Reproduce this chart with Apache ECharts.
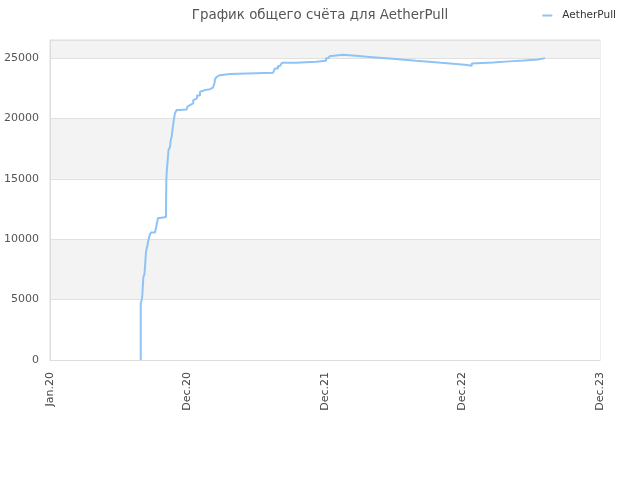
<!DOCTYPE html>
<html>
<head>
<meta charset="utf-8">
<script src="https://cdn.jsdelivr.net/npm/echarts@6/dist/echarts.min.js"></script>
<style>html,body{margin:0;padding:0;background:#fff;}#c{width:640px;height:480px;}</style>
</head>
<body>
<div id="c"></div>
<script>
// X tick labels (axis position index 0..4)
var tickLabels = ['Jan.20', 'Dec.20', 'Dec.21', 'Dec.22', 'Dec.23'];
var seriesName = 'AetherPull';
// x positions along the axis (in tick units)
var xPos = [0.660, 0.660, 0.667, 0.671, 0.679, 0.687, 0.691, 0.698, 0.709, 0.713,
  0.725, 0.735, 0.764, 0.778, 0.785, 0.800, 0.844, 0.846, 0.849, 0.856,
  0.862, 0.873, 0.878, 0.885, 0.892, 0.897, 0.904, 0.909, 0.921, 0.945,
  0.994, 0.999, 1.009, 1.018, 1.042, 1.055, 1.069, 1.091, 1.098, 1.127,
  1.164, 1.185, 1.196, 1.200, 1.212, 1.225, 1.236, 1.309, 1.433, 1.622,
  1.636, 1.658, 1.673, 1.687, 1.789, 1.935, 2.007, 2.022, 2.036, 2.051,
  2.080, 2.131, 2.225, 2.305, 2.393, 2.495, 2.575, 2.662, 2.756, 2.844,
  2.931, 3.018, 3.067, 3.076, 3.222, 3.338, 3.447, 3.549, 3.600];
// score values
var scores = [0, 4740, 4970, 5300, 6870, 7120, 7700, 8940, 9520, 9770,
  10350, 10560, 10720, 11340, 11760, 11840, 12580, 14900, 15590, 16560,
  17380, 17660, 18210, 18490, 19180, 19310, 20140, 20420, 20700, 20740,
  20840, 20970, 21110, 21250, 21520, 21660, 21900, 22210, 22350, 22430,
  22560, 22620, 22910, 23260, 23450, 23590, 23680, 23730, 23780, 23800,
  24150, 24340, 24500, 24610, 24700, 24780, 24980, 25080, 25170, 25220,
  25270, 25190, 25110, 25030, 24940, 24860, 24780, 24700, 24610, 24530,
  24450, 24360, 24550, 24640, 24730, 24810, 24890, 25000, 25000];

var data = xPos.map(function (x, i) { return [x, scores[i]]; });

var chart = echarts.init(document.getElementById('c'));
chart.setOption({
  animation: false,
  backgroundColor: '#fff',
  textStyle: { fontFamily: 'DejaVu Sans' },
  title: {
    text: 'График общего счёта для AetherPull',
    left: 'center', top: 4,
    textStyle: { fontSize: 13.4, fontWeight: 'normal', color: '#555', fontFamily: 'DejaVu Sans' }
  },
  legend: {
    right: 19, top: 5,
    itemWidth: 10, itemHeight: 2, itemGap: 5,
    icon: 'rect',
    textStyle: { fontSize: 10.5, color: '#333', fontFamily: 'DejaVu Sans', padding: [0, 0, 0, 5] },
    data: [seriesName]
  },
  grid: { left: 50, right: 40, top: 40, bottom: 120, show: true, borderColor: '#ddd', borderWidth: 1 },
  xAxis: {
    type: 'value', min: 0, max: 4, interval: 1,
    axisLine: { show: true, lineStyle: { color: '#ddd' } },
    axisTick: { show: false },
    splitLine: { show: false },
    axisLabel: {
      rotate: 90, fontSize: 11, color: '#444', margin: 12, fontFamily: 'DejaVu Sans',
      formatter: function (v) { return tickLabels[Math.round(v)] || ''; }
    }
  },
  yAxis: {
    type: 'value', min: 0, max: 26500, interval: 5000,
    axisLine: { show: true, lineStyle: { color: '#ddd' } },
    axisTick: { show: false },
    axisLabel: {
      fontSize: 11, color: '#555', margin: 11, fontFamily: 'DejaVu Sans',
      formatter: function (v) { return v % 5000 === 0 ? String(v) : ''; }
    },
    splitLine: { show: true, lineStyle: { color: '#e0e0e0' } },
    splitArea: { show: true, areaStyle: { color: ['#ffffff', '#f3f3f3'] } }
  },
  series: [{
    name: seriesName,
    type: 'line',
    step: 'end',
    showSymbol: false,
    symbol: 'none',
    data: data,
    itemStyle: { color: '#90c3f5' },
    lineStyle: { color: '#90c3f5', width: 2 }
  }]
});
</script>
</body>
</html>
